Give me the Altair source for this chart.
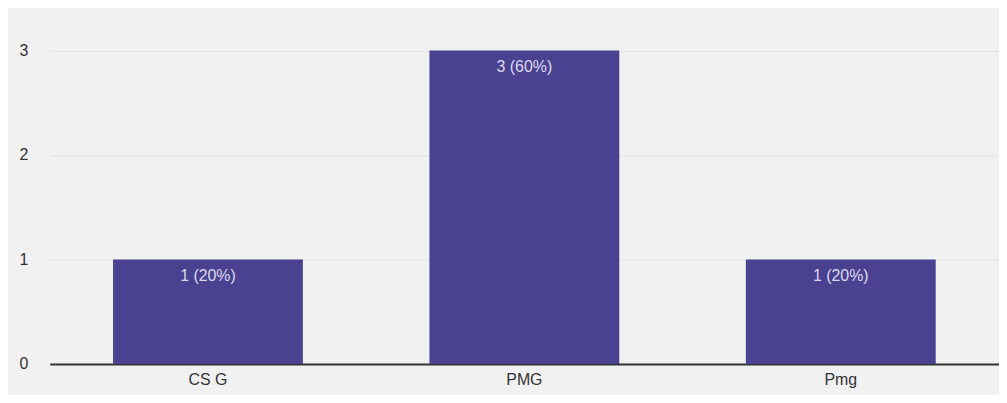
import altair as alt
import pandas as pd

categories = ["CS G", "PMG", "Pmg"]
counts = [1, 3, 1]
labels = ["1 (20%)", "3 (60%)", "1 (20%)"]

df = pd.DataFrame({"cat": categories, "count": counts, "label": labels})

x = alt.X("cat:N", sort=categories, title=None,
          scale=alt.Scale(paddingInner=0.4, paddingOuter=0.2),
          axis=alt.Axis(labelAngle=0, labelFontSize=16, labelColor="#333333",
                        labelFont="Liberation Sans", labelPadding=8,
                        domainColor="#333333", domainWidth=2, ticks=False,
                        grid=False))
y = alt.Y("count:Q", title=None,
          scale=alt.Scale(domain=[0, 3.3], nice=False),
          axis=alt.Axis(values=[0, 1, 2, 3], format="d", labelFontSize=16,
                        labelColor="#333333",
                        labelFont="Liberation Sans", labelPadding=22,
                        domain=False, ticks=False, gridColor="#e4e4e4",
                        labelBaseline="middle"))

bars = alt.Chart(df).mark_bar(color="#4a4190").encode(x=x, y=y)
text = alt.Chart(df).mark_text(color="#dcd9ef", fontSize=16, font="Liberation Sans",
                               dy=17, baseline="middle").encode(
    x=alt.X("cat:N", sort=categories), y="count:Q", text="label:N")

chart = alt.layer(bars, text).properties(
    width=955, height=347,
    autosize=alt.AutoSizeParams(type="none"),
    padding={"left": 42, "top": 10, "right": 0, "bottom": 30},
    background="#f1f1f1",
).configure_view(stroke=None)

chart.save("out.html", embed_options={"renderer": "svg", "actions": False})
